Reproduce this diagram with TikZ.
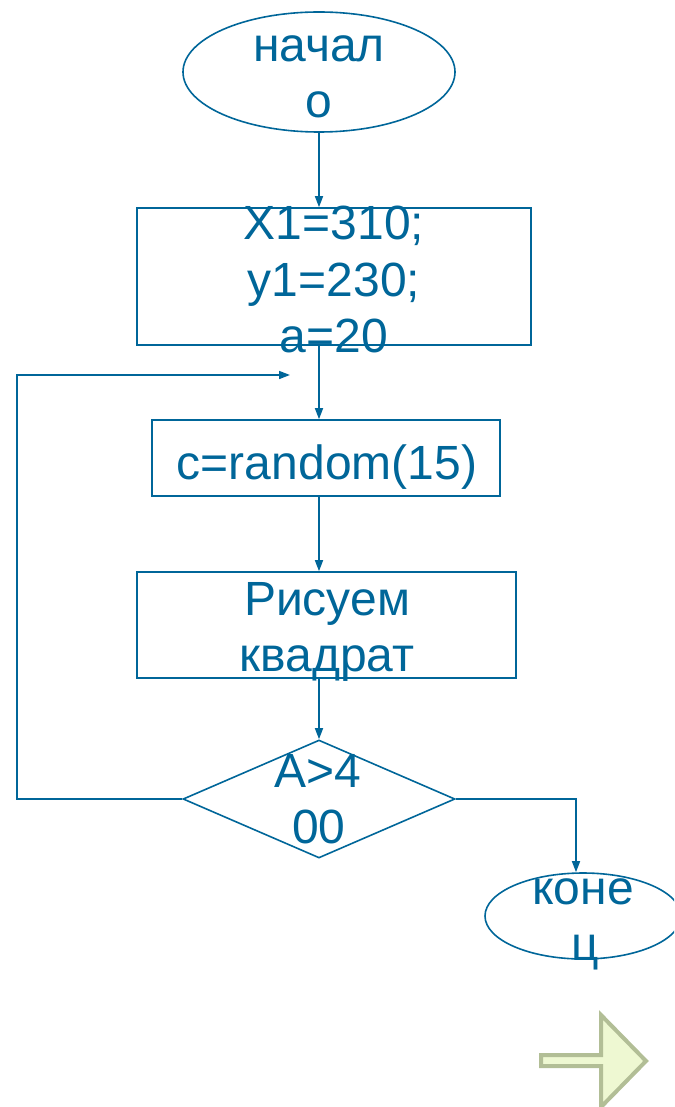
\documentclass[tikz,border=0pt]{standalone}
\usepackage{fontspec}
\setmainfont{Liberation Sans}
\usetikzlibrary{shapes.geometric,arrows.meta}
\definecolor{fc}{RGB}{0,102,153}
\definecolor{gfill}{RGB}{238,248,210}
\definecolor{gline}{RGB}{178,190,150}
\begin{document}
\begin{tikzpicture}[x=1pt,y=-1pt,
  shp/.style={draw=fc, line width=1.6pt, inner sep=0pt},
  txt/.style={text=fc, font=\fontsize{48}{56}\selectfont, inner sep=0pt, anchor=base},
  arr/.style={draw=fc, line width=1.6pt, -{Triangle[length=11pt,width=8pt]}},
  ]
\useasboundingbox (0,0) rectangle (674,1107);
\clip (0,0) rectangle (674,1107);
% shapes
\node[shp, ellipse, minimum width=272pt, minimum height=120pt] (start) at (319,72) {};
\node[shp, rectangle, minimum width=394pt, minimum height=137pt] (box1) at (334,276.5) {};
\node[shp, rectangle, minimum width=348pt, minimum height=76pt] (box2) at (326,458) {};
\node[shp, rectangle, minimum width=379pt, minimum height=106pt] (box3) at (326.5,625) {};
\node[shp, diamond, minimum width=272pt, minimum height=118pt] (dec) at (319,799) {};
\node[shp, ellipse, minimum width=196pt, minimum height=86pt] (fin) at (583,916) {};
% texts
\node[txt] (t1a) at (319,62) {начал};
\node[txt] (t1b) at (319,118) {о};
\node[txt] (t2a) at (334,240) {X1=310;};
\node[txt] (t2b) at (334,296) {y1=230;};
\node[txt] (t2c) at (334,352) {a=20};
\node[txt] (t3) at (327,479) {c=random(15)};
\node[txt] (t4a) at (327,615) {Рисуем};
\node[txt] (t4b) at (327,671) {квадрат};
\node[txt] (t5a) at (318,787) {A>4};
\node[txt] (t5b) at (319,843) {00};
\node[txt] (t6a) at (583,904) {коне};
\node[txt] (t6b) at (585,960) {ц};
% connectors
\coordinate (cx) at (start.south);
\draw[arr] (start.south) -- (cx |- box1.north);
\draw[arr] (cx |- box1.south) -- (cx |- box2.north);
\draw[arr] (cx |- box2.south) -- (cx |- box3.north);
\draw[arr] (cx |- box3.south) -- (dec.north);
\coordinate (loopx) at (17,0);
\coordinate (loopin) at (290,375);
\draw[arr] (dec.west) -- (dec.west -| loopx) |- (loopin);
\coordinate (turn) at (576,799);
\draw[arr] (dec.east) -- (turn) -- (turn |- fin.north);
% green arrow
\draw[draw=gline, fill=gfill, line width=4pt, line join=miter]
  (541,1055) -- (601,1055) -- (601,1015) -- (646,1061) -- (601,1107) -- (601,1066) -- (541,1066) -- cycle;
\end{tikzpicture}
\end{document}
